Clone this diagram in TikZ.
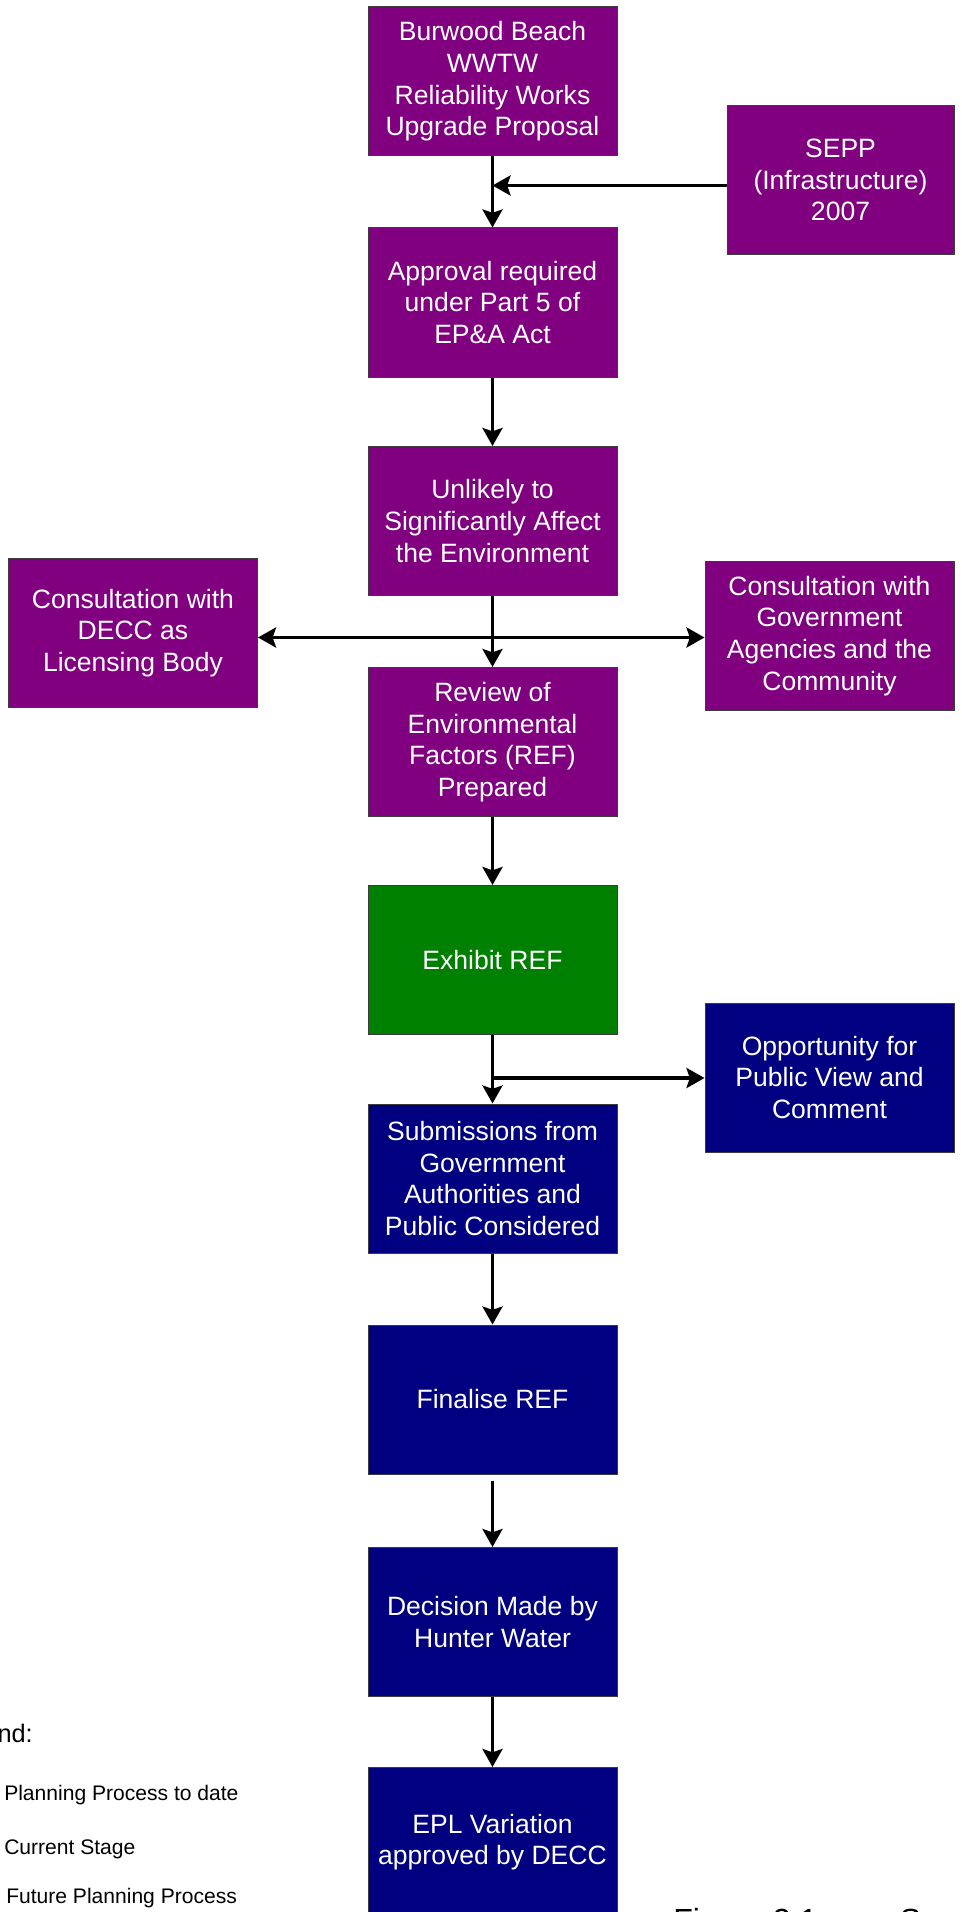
\documentclass[tikz,border=0pt]{standalone}
\usepackage{fontspec}
\setmainfont{Liberation Sans}
\usetikzlibrary{arrows.meta}
\definecolor{pp}{RGB}{128,0,128}
\definecolor{gg}{RGB}{0,128,0}
\definecolor{nv}{RGB}{0,0,128}
\definecolor{bd}{RGB}{60,60,60}
\begin{document}
\begin{tikzpicture}[x=0.75pt,y=-0.75pt,
  box/.style={rectangle, draw=bd, line width=0.75pt, minimum width=186.75pt, minimum height=111.75pt,
    inner sep=0pt, align=center, text=white, font=\fontsize{19.9}{23.8}\selectfont},
  pbox/.style={box, fill=pp},
  gbox/.style={box, fill=gg},
  nbox/.style={box, fill=nv},
  tip/.tip={Stealth[length=13.5pt,width=15pt,inset=2.5pt]},
  arr/.style={line width=2.5pt, -tip},
  arrtwo/.style={line width=2.5pt, tip-tip},
  legtext/.style={inner sep=0pt, font=\fontsize{15.8}{18}\selectfont},
]
\useasboundingbox (0,0) rectangle (962,1912);
\clip (0,0) rectangle (962,1912);

% nodes
\node[pbox] (burwood) at (492.5,81.5) {Burwood Beach\\WWTW\\Reliability Works\\Upgrade Proposal};
\node[pbox, minimum width=170.25pt] (sepp) at (840.5,180) {SEPP\\(Infrastructure)\\2007};
\node[pbox] (approval) at (492.5,302.5) {Approval required\\under Part 5 of\\EP\&A Act};
\node[pbox] (unlikely) at (492.5,521) {Unlikely to\\Significantly Affect\\the Environment};
\node[pbox] (decc) at (133,633) {Consultation with\\DECC as\\Licensing Body};
\node[pbox] (gov) at (829.5,636) {Consultation with\\Government\\Agencies and the\\Community};
\node[pbox] (review) at (492.5,742) {Review of\\Environmental\\Factors (REF)\\Prepared};
\node[gbox] (exhibit) at (492.5,960) {Exhibit REF};
\node[nbox] (opp) at (829.5,1077.5) {Opportunity for\\Public View and\\Comment};
\node[nbox] (subm) at (492.5,1178.5) {Submissions from\\Government\\Authorities and\\Public Considered};
\node[nbox] (final) at (492.5,1399.5) {Finalise REF};
\node[nbox] (decision) at (492.5,1622) {Decision Made by\\Hunter Water};
\node[nbox] (epl) at (492.5,1842) {EPL Variation\\approved by DECC};

% junctions
\coordinate (j1) at (492.5,185.5);
\coordinate (j2) at (492.5,637.5);
\coordinate (j3) at (492.5,1078);

% connectors
\draw[arr] (burwood.south) -- (approval.north);
\draw[arr] (sepp.west |- j1) -- (j1);
\draw[arr] (approval.south) -- (unlikely.north);
\draw[arr] (unlikely.south) -- (review.north);
\draw[arrtwo] (decc.east |- j2) -- (gov.west |- j2);
\draw[arr] (review.south) -- (exhibit.north);
\draw[arr] (exhibit.south) -- (subm.north);
\draw[arr] (j3) -- (opp.west |- j3);
\draw[arr] (subm.south) -- (final.north);
\draw[arr, shorten <=4.5pt] (final.south) -- (decision.north);
\draw[arr] (decision.south) -- (epl.north);

% legend
\node[inner sep=0pt, anchor=base east, font=\fontsize{19}{22}\selectfont] (legtitle) at (33,1742) {Legend:};
\node[legtext, anchor=base west] (leg1) at (4,1800) {Planning Process to date};
\node[legtext, anchor=base west] (leg2) at (4,1854) {Current Stage};
\node[legtext, anchor=base west] (leg3) at (6,1903) {Future Planning Process};

% caption (cut off by the page edge)
\node[inner sep=0pt, anchor=base west, font=\fontsize{24}{28}\selectfont] (caption) at (673,1931) {Figure 2.1\hspace{62pt}S};
\end{tikzpicture}
\end{document}
